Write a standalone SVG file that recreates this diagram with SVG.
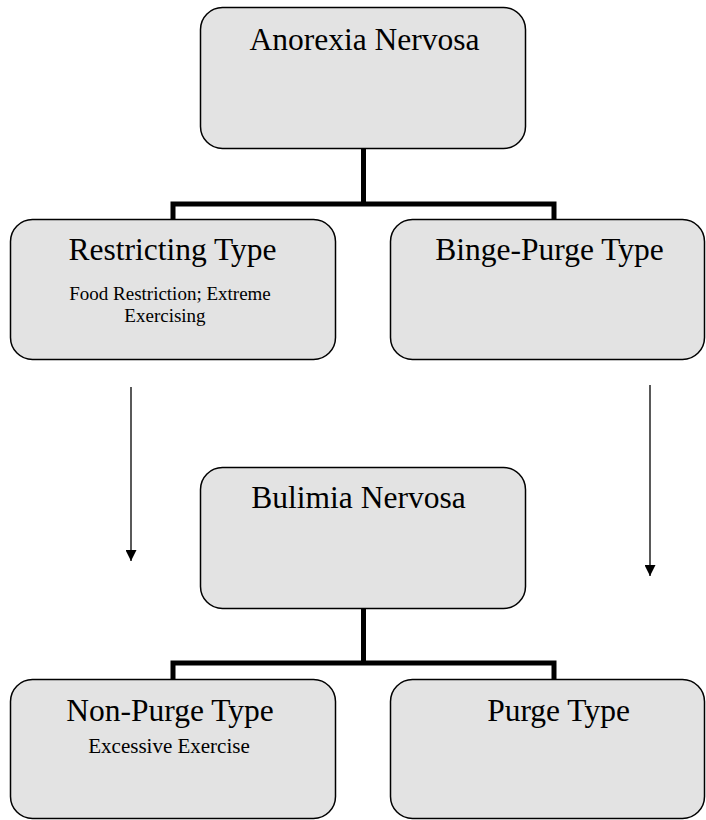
<svg xmlns="http://www.w3.org/2000/svg" width="706" height="820" viewBox="0 0 706 820">
  <style>
    .box { fill: #e3e3e3; stroke: #000; stroke-width: 1.5; }
    .title { font-family: "Liberation Serif", "Times New Roman", serif; font-size: 31.5px; fill: #000; text-anchor: middle; }
    .note { font-family: "Liberation Serif", "Times New Roman", serif; fill: #000; text-anchor: middle; }
    .tree { fill: none; stroke: #000; stroke-width: 5; stroke-linejoin: miter; }
    .flow { fill: none; stroke: #000; stroke-width: 1.3; }
  </style>
  <defs>
    <marker id="arrow" viewBox="0 0 10 10" refX="10" refY="5" markerWidth="11" markerHeight="11" markerUnits="userSpaceOnUse" orient="auto">
      <path d="M0,0 L10,5 L0,10 Z" fill="#000"/>
    </marker>
  </defs>
  <rect width="706" height="820" fill="#fff"/>

  <!-- hierarchy lines and flow arrows -->
  <g id="connectors">
    <path class="tree" d="M363.5,149 V204 M173,219 V204 H554 V219"/>
    <path class="tree" d="M363.5,609 V663 M173,679 V663 H554 V679"/>
    <line class="flow" x1="131" y1="387" x2="131" y2="561" marker-end="url(#arrow)"/>
    <line class="flow" x1="650" y1="385" x2="650" y2="576" marker-end="url(#arrow)"/>
  </g>

  <g id="anorexia">
    <rect class="box" x="200.5" y="7.5" width="325" height="141" rx="22"/>
    <text class="title" x="364.5" y="50">Anorexia Nervosa</text>
  </g>

  <g id="restricting">
    <rect class="box" x="10.5" y="219.5" width="325" height="140" rx="22"/>
    <text class="title" x="172.5" y="260">Restricting Type</text>
    <text class="note" font-size="19" x="170" y="300">Food Restriction; Extreme</text>
    <text class="note" font-size="19" x="165" y="322">Exercising</text>
  </g>

  <g id="binge-purge">
    <rect class="box" x="390.5" y="219.5" width="314" height="140" rx="22"/>
    <text class="title" x="549.5" y="260">Binge-Purge Type</text>
  </g>

  <g id="bulimia">
    <rect class="box" x="200.5" y="467.5" width="325" height="141" rx="22"/>
    <text class="title" x="358.5" y="508">Bulimia Nervosa</text>
  </g>

  <g id="non-purge">
    <rect class="box" x="10.5" y="679.5" width="325" height="139" rx="22"/>
    <text class="title" x="170" y="721">Non-Purge Type</text>
    <text class="note" font-size="21" x="169" y="753">Excessive Exercise</text>
  </g>

  <g id="purge">
    <rect class="box" x="390.5" y="679.5" width="314" height="139" rx="22"/>
    <text class="title" x="558.5" y="721">Purge Type</text>
  </g>
</svg>
